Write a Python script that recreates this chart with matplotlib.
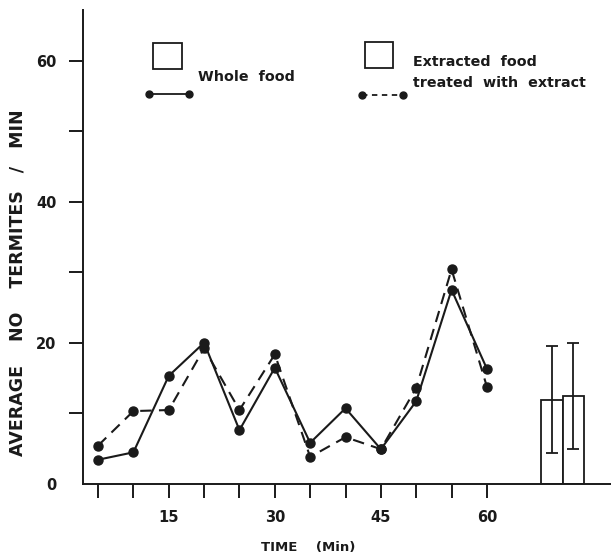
import matplotlib
matplotlib.use("Agg")
import matplotlib.pyplot as plt
from matplotlib.patches import Rectangle
from matplotlib.lines import Line2D

# ---- data ----
time_min = [5, 10, 15, 20, 25, 30, 35, 40, 45, 50, 55, 60]
whole_food = [3.4, 4.45, 15.3, 20.0, 7.6, 16.45, 5.8, 10.7, 4.9, 11.7, 27.5, 16.3]
extracted_food = [5.4, 10.3, 10.45, 19.2, 10.45, 18.35, 3.8, 6.6, 4.9, 13.6, 30.4, 13.75]

bar_x = [69.2, 72.2]
bar_means = [11.9, 12.45]
bar_err_low = [7.5, 7.5]
bar_err_high = [7.6, 7.45]

xtick_pos = [5, 10, 15, 20, 25, 30, 35, 40, 45, 50, 55, 60]
xtick_labels = ['', '', '15', '', '', '30', '', '', '45', '', '', '60']
ytick_pos = [0, 10, 20, 30, 40, 50, 60]
ytick_labels = ['0', '', '20', '', '40', '', '60']

W, H = 611, 559
fig = plt.figure(figsize=(W / 100, H / 100), dpi=100)
plt.rcParams['font.family'] = ['DejaVu Sans']

def fx(px):
    return px / W

def fy(py):
    return 1 - py / H

ax = fig.add_axes([fx(82.7), fy(483.7), 1 - fx(82.7), fy(10) - fy(483.7)])
ax.set_xlim(2.83, 77.55)
ax.set_ylim(0, 67.2)

ink = '#1a1a1a'
ax.plot(time_min, whole_food, color=ink, lw=1.5, ls='-', marker='o',
        markersize=6.5, markerfacecolor=ink, markeredgecolor=ink, zorder=3)
ax.plot(time_min, extracted_food, color=ink, lw=1.5, ls=(0, (5.5, 3.5)), marker='o',
        markersize=6.5, markerfacecolor=ink, markeredgecolor=ink, zorder=3)

ax.bar(bar_x, bar_means, width=3.0, facecolor='white', edgecolor=ink, lw=1.3,
       yerr=[bar_err_low, bar_err_high], capsize=4.5,
       error_kw=dict(ecolor=ink, elinewidth=1.3, capthick=1.3), zorder=2)

for s in ['top', 'right']:
    ax.spines[s].set_visible(False)
for s in ['left', 'bottom']:
    ax.spines[s].set_linewidth(1.4)
    ax.spines[s].set_color(ink)

ax.set_xticks(xtick_pos)
ax.set_xticklabels(xtick_labels, fontsize=10.5, fontweight='bold', color=ink)
ax.set_yticks(ytick_pos)
ax.set_yticklabels(ytick_labels, fontsize=10.5, fontweight='bold', color=ink)
ax.tick_params(axis='both', direction='out', length=10, width=1.4, color=ink)
ax.tick_params(axis='x', pad=9)
ax.tick_params(axis='y', pad=9)
ax.yaxis.get_major_ticks()[0].tick1line.set_visible(False)

fig.text(fx(308), fy(548), 'TIME    (Min)', ha='center', va='center',
         fontsize=9.5, fontweight='bold', color=ink)
fig.text(fx(18), fy(283), 'AVERAGE    NO    TERMITES   /   MIN', rotation=90,
         ha='center', va='center', fontsize=12.5, fontweight='bold', color=ink)

# ---- legend (manual) ----
for (x0, y0, x1, y1) in [(152.7, 42.7, 181.7, 69.3), (365, 41.7, 393, 68.3)]:
    fig.patches.append(Rectangle((fx(x0), fy(y1)), fx(x1) - fx(x0), fy(y0) - fy(y1),
                                 transform=fig.transFigure, facecolor='white',
                                 edgecolor=ink, lw=1.3))
fig.lines.append(Line2D([fx(149.3), fx(189.3)], [fy(94.3), fy(94.3)], transform=fig.transFigure,
                        color=ink, lw=1.3, marker='o', markersize=5, markevery=[0, 1]))
fig.lines.append(Line2D([fx(361.7), fx(403.3)], [fy(95), fy(95)], transform=fig.transFigure,
                        color=ink, lw=1.3, ls=(0, (3, 2.5)), marker='o', markersize=5,
                        markevery=[0, 1]))
fig.text(fx(198), fy(76.7), 'Whole  food', ha='left', va='center', fontsize=10.3,
         fontweight='bold', color=ink)
fig.text(fx(413), fy(62.3), 'Extracted  food', ha='left', va='center', fontsize=10.3,
         fontweight='bold', color=ink)
fig.text(fx(413), fy(82.7), 'treated  with  extract', ha='left', va='center', fontsize=10.3,
         fontweight='bold', color=ink)

fig.savefig('out.png', dpi=100, facecolor='white')
